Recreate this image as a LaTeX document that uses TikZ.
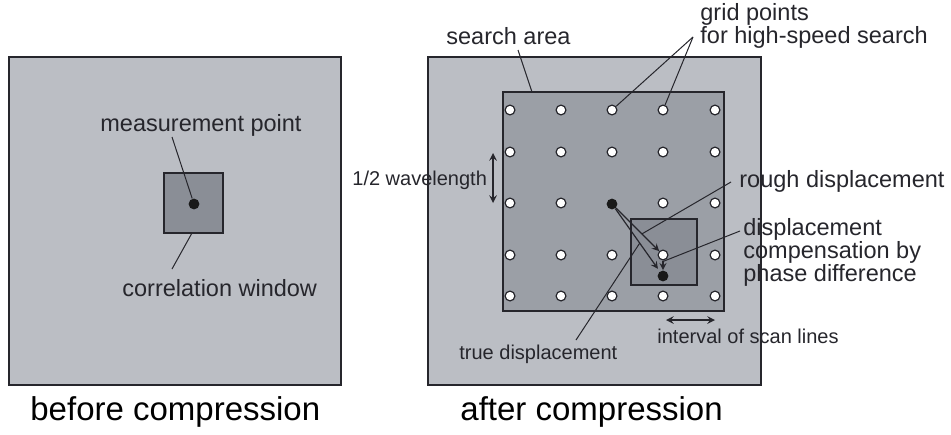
\documentclass[tikz,border=0pt]{standalone}
\usepackage{fontspec}
\setmainfont{Liberation Sans}
\usetikzlibrary{arrows}

\definecolor{panelgray}{RGB}{187,190,196}
\definecolor{areagray}{RGB}{155,159,166}
\definecolor{windowgray}{RGB}{138,142,150}
\definecolor{inkgray}{RGB}{38,38,44}

\tikzstyle{panel} = [draw=inkgray, line width=0.75pt, fill=panelgray]
\tikzstyle{area} = [draw=inkgray, line width=0.75pt, fill=areagray]
\tikzstyle{window} = [draw=inkgray, line width=0.7pt, fill=windowgray]
\tikzstyle{gridpoint} = [circle, draw=inkgray, line width=0.6pt, fill=white, inner sep=0pt, minimum size=4.9pt]
\tikzstyle{blackdot} = [circle, fill=black!90, inner sep=0pt, minimum size=5.4pt]
\tikzstyle{note} = [inner sep=0pt, text=inkgray, align=left, font=\fontsize{11.75}{11.5}\selectfont]
\tikzstyle{smallnote} = [inner sep=0pt, text=inkgray, font=\fontsize{10}{12}\selectfont]
\tikzstyle{heading} = [inner sep=0pt, text=black, font=\fontsize{16.5}{20}\selectfont]
\tikzstyle{leader} = [line width=0.5pt, draw=inkgray]
\tikzstyle{arrow} = [line width=0.6pt, draw=inkgray, ->, >=stealth]
\tikzstyle{dimline} = [line width=0.7pt, draw=inkgray, <->, >=stealth]

\begin{document}
\begin{tikzpicture}[x=0.5pt, y=-0.5pt]
\useasboundingbox (0,0) rectangle (951,434);

% before compression
\draw[panel] (9,57) rectangle (341,385);
\draw[window] (164,173) rectangle (223,233);
\node (mp) [blackdot] at (194,204) {};
\node (mptext) [note, anchor=base west] at (100,131) {measurement point};
\node (cwtext) [note, anchor=base west] at (122,296) {correlation window};
\coordinate (mpleg) at (172,137);
\coordinate (cwtop) at (192,233);
\coordinate (cwleg) at (172,269);
\draw[leader] (mpleg) -- (mp);
\draw[leader] (cwtop) -- (cwleg);
\node (before) [heading, anchor=base west] at (30,420) {before compression};

% after compression
\draw[panel] (428,57) rectangle (761,385);
\draw[area] (503,92) rectangle (724,311);
\draw[window] (631,219) rectangle (697,285);

% grid points, the centre one is the rough match
\foreach \x [count=\i] in {510,561,612,663,715}
  \foreach \y [count=\j] in {110,152,203,255,296}
    {\ifnum\i\j=33 \else \node (g-\i-\j) [gridpoint] at (\x,\y) {}; \fi}

\node (rough) [blackdot] at (612,204) {};
\node (true) [blackdot] at (663,276) {};
\draw[arrow] (rough) -- (g-4-4);
\draw[arrow, shorten >=1.5pt] (rough) -- (true);
\draw[arrow] (g-4-4) -- (true);
\path (rough) -- (g-4-4) coordinate[pos=0.6] (roughmid);
\path (rough) -- (true) coordinate[pos=0.55] (truemid);
\path (g-4-4) -- (true) coordinate[pos=0.1] (phasemid);

% labels (base of the multi-line ones is their last line)
\node (satext) [note, anchor=base west] at (446,44) {search area};
\node (gptext) [note, anchor=base west] at (700,43) {grid points\\for high-speed search};
\node (wltext) [smallnote, anchor=base west] at (352,185) {1/2 wavelength};
\node (rdtext) [note, anchor=base west] at (739,187) {rough displacement};
\node (pdtext) [note, anchor=base west] at (743,281) {displacement\\compensation by\\phase difference};
\node (sltext) [smallnote, anchor=base west] at (657,343) {interval of scan lines};
\node (tdtext) [smallnote, anchor=base west] at (459,359) {true displacement};
\node (after) [heading, anchor=base west] at (460,420) {after compression};

% leader lines
\coordinate (saleg) at (518,50);
\coordinate (satop) at (532,92);
\coordinate (gpfork) at (693,37);
\coordinate (rdleg) at (731,182);
\coordinate (pdleg) at (740,231);
\coordinate (tdleg) at (576,340);
\draw[leader] (saleg) -- (satop);
\draw[leader] (gpfork) -- (g-3-1);
\draw[leader] (gpfork) -- (g-4-1);
\draw[leader] (rdleg) -- (roughmid);
\draw[leader] (pdleg) -- (phasemid);
\draw[leader] (tdleg) -- (truemid);

% spacing marks
\coordinate (wltop) at (493,153);
\coordinate (wlbot) at (493,203);
\coordinate (slleft) at (666,320);
\coordinate (slright) at (715,320);
\draw[dimline] (wltop) -- (wlbot);
\draw[dimline] (slleft) -- (slright);

\end{tikzpicture}
\end{document}
